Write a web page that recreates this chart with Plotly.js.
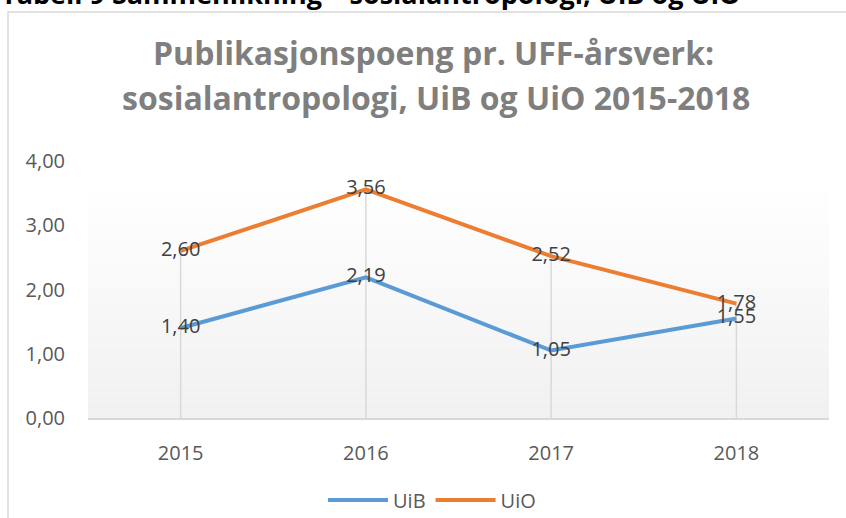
<!DOCTYPE html>
<html>
<head>
<meta charset="utf-8">
<script src="https://cdn.plot.ly/plotly-3.0.1.min.js"></script>
<style>html,body{margin:0;padding:0;background:#fff;}#chart{width:846px;height:518px;}</style>
</head>
<body>
<div id="chart"></div>
<script>
var years = ['2015', '2016', '2017', '2018'];
var uib = [1.40, 2.19, 1.05, 1.55];
var uio = [2.60, 3.56, 2.52, 1.78];
var seriesNames = ['UiB', 'UiO'];
var yTicks = [0, 1, 2, 3, 4];
var titleLines = ['Publikasjonspoeng pr. UFF-årsverk:', 'sosialantropologi, UiB og UiO 2015-2018'];
var headerText = 'Tabell 9 Sammenlikning – sosialantropologi, UiB og UiO';

var W = 846, H = 518;
var M = {l: 88, r: 17, t: 161, b: 100, autoexpand: false};
var plotH = H - M.t - M.b, plotW = W - M.l - M.r;
function py(p) { return (H - M.b - p) / plotH; }
function px(p) { return (p - M.l) / plotW; }
function fmt(v) { return v.toFixed(2).replace('.', ','); }

var FONT = 'Open Sans, sans-serif';

// drop lines from data
var dx = [], dy = [];
years.forEach(function (y, i) {
  dx.push(y, y, null);
  dy.push(0, Math.max(uib[i], uio[i]), null);
});

var traces = [
  {x: dx, y: dy, type: 'scatter', mode: 'lines', line: {color: '#d9d9d9', width: 1.5},
   hoverinfo: 'skip', showlegend: false},
  {x: years, y: uib, name: seriesNames[0], type: 'scatter', mode: 'lines+text',
   line: {color: '#5b9bd5', width: 4}, text: uib.map(fmt), textposition: 'middle center',
   textfont: {family: FONT, size: 20, color: '#404040'}, cliponaxis: false},
  {x: years, y: uio, name: seriesNames[1], type: 'scatter', mode: 'lines+text',
   line: {color: '#ed7d31', width: 4}, text: uio.map(fmt), textposition: 'middle center',
   textfont: {family: FONT, size: 20, color: '#404040'}, cliponaxis: false}
];

// gradient background
var shapes = [];
var nb = 30, gTop = py(173);
for (var k = 0; k < nb; k++) {
  var t = k / (nb - 1);
  var c = Math.round(255 - (255 - 241) * (1 - t));
  shapes.push({type: 'rect', xref: 'paper', yref: 'paper', x0: 0, x1: 1,
    y0: gTop * k / nb, y1: gTop * (k + 1) / nb, line: {width: 0},
    fillcolor: 'rgb(' + c + ',' + c + ',' + c + ')', layer: 'below'});
}
// chart frame
shapes.push({type: 'rect', xref: 'paper', yref: 'paper', x0: px(8), x1: px(860),
  y0: py(540), y1: py(12), line: {color: '#d9d9d9', width: 1.5}, fillcolor: 'rgba(0,0,0,0)'});

var annotations = [
  {text: '<b>' + headerText + '</b>', xref: 'paper', yref: 'paper', x: px(-1), y: py(14),
   xanchor: 'left', yanchor: 'bottom', showarrow: false,
   font: {family: FONT, size: 27, color: '#000000'}},
  {text: '<b>' + titleLines[0] + '</b>', xref: 'paper', yref: 'paper', x: px(433), y: py(53),
   xanchor: 'center', yanchor: 'middle', showarrow: false,
   font: {family: FONT, size: 32, color: '#7f7f7f'}},
  {text: '<b>' + titleLines[1] + '</b>', xref: 'paper', yref: 'paper', x: px(436), y: py(97),
   xanchor: 'center', yanchor: 'middle', showarrow: false,
   font: {family: FONT, size: 32, color: '#7f7f7f'}}
];

var layout = {
  width: W, height: H, margin: M,
  paper_bgcolor: '#ffffff', plot_bgcolor: 'rgba(0,0,0,0)',
  separators: ',.',
  showlegend: true,
  legend: {orientation: 'h', xanchor: 'center', x: px(432), yanchor: 'middle', y: py(500),
    font: {family: FONT, size: 20, color: '#595959'}, itemwidth: 60},
  xaxis: {type: 'category', range: [-0.5, 3.5], showgrid: false, zeroline: false,
    showline: true, linecolor: '#d9d9d9', linewidth: 2, ticks: '',
    tickfont: {family: FONT, size: 20, color: '#595959'}, ticklabelstandoff: 16},
  yaxis: {range: [0, 4], tickvals: yTicks, ticktext: yTicks.map(fmt), showgrid: false,
    zeroline: false, showline: false, ticks: '', ticklabelstandoff: 22,
    tickfont: {family: FONT, size: 20, color: '#595959'}},
  shapes: shapes,
  annotations: annotations
};

Plotly.newPlot('chart', traces, layout, {displayModeBar: false, staticPlot: true});
</script>
</body>
</html>
